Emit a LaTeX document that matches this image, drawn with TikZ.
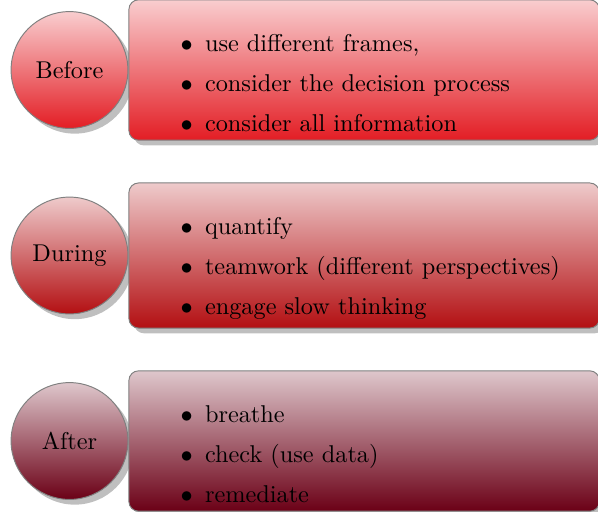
\documentclass[tikz,border=0pt]{standalone}
\usepackage{enumitem}
\usetikzlibrary{positioning,shadows}

\definecolor{beforered}{HTML}{E31D24}
\definecolor{duringred}{HTML}{B30F12}
\definecolor{afterred}{HTML}{6B0016}

\tikzset{
  phase/.style={circle, draw=gray, minimum size=1.69cm, inner sep=0pt,
    drop shadow, top color=#1!22, bottom color=#1},
  notes/.style={rectangle, rounded corners, draw=gray, text width=187pt,
    align=left, drop shadow, top color=#1!22, bottom color=#1},
}
\newcommand{\pointlist}[1]{\vspace*{6pt}%
  \begin{itemize}[nosep,leftmargin=28pt,itemsep=4.5pt,label=$\bullet$]#1\end{itemize}}

\begin{document}
\begin{tikzpicture}[x=0.01446cm, y=-0.01446cm]
  \useasboundingbox (0,0) rectangle (598,511);
  % before
  \node[phase=beforered] (before) at (69.5,70) {Before};
  \node[notes=beforered, right=0pt of before] (beforenotes) {\pointlist{
      \item use different frames,
      \item consider the decision process
      \item consider all information}};
  % during
  \node[phase=duringred] (during) at (69.5,255.5) {During};
  \node[notes=duringred, right=0pt of during] (duringnotes) {\pointlist{
      \item quantify
      \item teamwork (different perspectives)
      \item engage slow thinking}};
  % after
  \node[phase=afterred] (after) at (69.5,441) {After};
  \node[notes=afterred, right=0pt of after] (afternotes) {\pointlist{
      \item breathe
      \item check (use data)
      \item remediate}};
\end{tikzpicture}
\end{document}
